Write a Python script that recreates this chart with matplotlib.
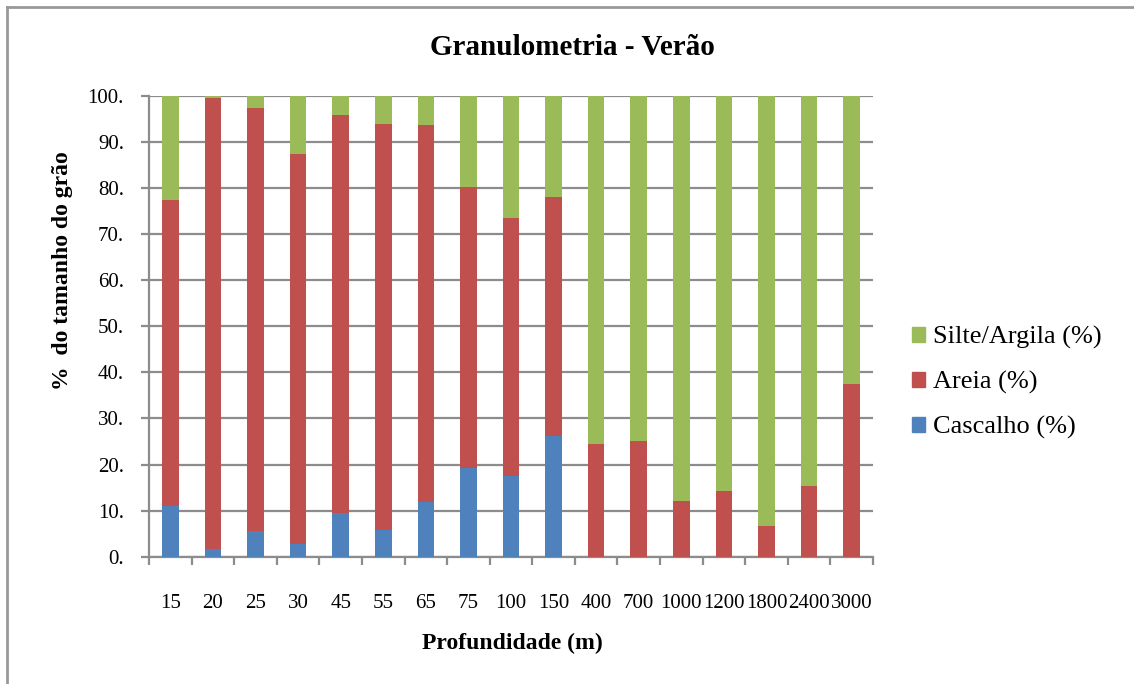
import matplotlib
matplotlib.use("Agg")
import matplotlib.pyplot as plt
import numpy as np
from matplotlib.lines import Line2D
from matplotlib.patches import Patch

# Granulometria por profundidade (verão), em % do tamanho do grão
profundidades = ["15", "20", "25", "30", "45", "55", "65", "75", "100", "150",
                 "400", "700", "1000", "1200", "1800", "2400", "3000"]
cascalho = [11.1, 1.7, 5.5, 2.8, 9.5, 5.9, 11.9, 19.2, 17.5, 26.1,
            0, 0, 0, 0, 0, 0, 0]
areia = [66.3, 97.9, 91.9, 84.6, 86.4, 87.9, 81.7, 61.0, 56.0, 51.9,
         24.5, 25.1, 12.1, 14.3, 6.7, 15.4, 37.5]
silte_argila = [100 - c - a for c, a in zip(cascalho, areia)]

COR_CASCALHO = "#4F81BD"
COR_AREIA = "#C0504D"
COR_SILTE = "#9BBB59"
SERIF = ["Liberation Serif", "DejaVu Serif"]

plt.rcParams["font.family"] = SERIF

fig = plt.figure(figsize=(11.34, 6.84), dpi=100)
ax = fig.add_axes([0.1314, 0.186, 0.6384, 0.674])

x = np.arange(len(profundidades))
w = 0.39
base2 = np.array(cascalho) + np.array(areia)
ax.bar(x, cascalho, w, color=COR_CASCALHO, zorder=3)
ax.bar(x, areia, w, bottom=cascalho, color=COR_AREIA, zorder=3)
ax.bar(x, silte_argila, w, bottom=base2, color=COR_SILTE, zorder=3)

ax.set_xlim(-0.5, len(profundidades) - 0.5)
ax.set_ylim(0, 100)
ax.set_yticks(np.arange(0, 101, 10))
ax.set_yticklabels([f"{v}." for v in range(0, 101, 10)], fontsize=15)
ax.yaxis.grid(True, color="#8c8c8c", lw=1.6, zorder=0)
ax.set_axisbelow(True)

# category labels centred, tick marks on the category boundaries
ax.set_xticks(x)
ax.set_xticklabels(profundidades, fontsize=15)
ax.tick_params(axis="x", length=0, pad=27)
ax.set_xticks(np.arange(-0.5, len(profundidades), 1), minor=True)
ax.tick_params(axis="x", which="minor", length=6, width=1.6, color="#8c8c8c", direction="out")
ax.tick_params(axis="y", length=6, width=1.6, color="#8c8c8c", pad=12)

for s in ("top", "right"):
    ax.spines[s].set_visible(False)
for s in ("left", "bottom"):
    ax.spines[s].set_color("#8c8c8c")
    ax.spines[s].set_linewidth(1.6)

fig.text(0.505, 0.931, "Granulometria - Verão", ha="center", va="center",
         fontsize=21, fontweight="bold")
fig.text(0.452, 0.06, "Profundidade (m)", ha="center", va="center",
         fontsize=17, fontweight="bold")
fig.text(0.055, 0.604, "%  do tamanho do grão", ha="center", va="center",
         rotation=90, fontsize=17, fontweight="bold")

handles = [Patch(color=COR_SILTE), Patch(color=COR_AREIA), Patch(color=COR_CASCALHO)]
labels = ["Silte/Argila (%)", "Areia (%)", "Cascalho (%)"]
fig.legend(handles, labels, loc="center left", bbox_to_anchor=(0.804, 0.441),
           frameon=False, fontsize=19, handlelength=0.5, handleheight=0.5,
           handletextpad=0.3, labelspacing=0.83, borderaxespad=0, borderpad=0)

# chart-area border along the left and top edges
fig.add_artist(Line2D([0.0065, 0.0065], [0, 0.99], color="#999999", lw=2,
                      transform=fig.transFigure))
fig.add_artist(Line2D([0.0065, 1], [0.99, 0.99], color="#999999", lw=2,
                      transform=fig.transFigure))

fig.savefig("out.png", dpi=100, facecolor="white")
